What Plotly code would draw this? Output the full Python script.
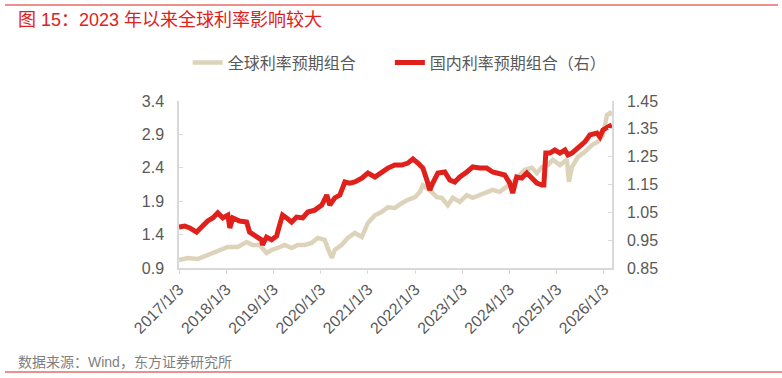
import plotly.graph_objects as go

# ---- data ----
global_dates = [
    "2017-01-03", "2017-03-11", "2017-05-28", "2017-08-13", "2017-10-30", "2018-01-16",
    "2018-04-02", "2018-06-10", "2018-07-26", "2018-09-19", "2018-11-11", "2018-12-20",
    "2019-02-05", "2019-03-31", "2019-05-24", "2019-07-09", "2019-09-02", "2019-10-26",
    "2019-12-12", "2020-02-04", "2020-02-27", "2020-03-30", "2020-04-22", "2020-06-15",
    "2020-07-31", "2020-09-24", "2020-11-17", "2021-01-03", "2021-02-26", "2021-04-21",
    "2021-06-06", "2021-07-30", "2021-09-22", "2021-11-08", "2022-01-03", "2022-02-10",
    "2022-03-04", "2022-04-04", "2022-05-12", "2022-06-20", "2022-07-28", "2022-09-13",
    "2022-10-22", "2022-12-15", "2023-02-07", "2023-03-25", "2023-05-18", "2023-07-11",
    "2023-08-26", "2023-10-19", "2023-12-12", "2024-01-20", "2024-03-07", "2024-04-30",
    "2024-06-24", "2024-08-02", "2024-09-10", "2024-10-26", "2024-12-03", "2025-01-27",
    "2025-03-22", "2025-04-07", "2025-04-30", "2025-06-15", "2025-08-08", "2025-10-01",
    "2025-11-16", "2025-12-26", "2026-01-26", "2026-02-18", "2026-03-05",
]
global_values = [
    1.02, 1.05, 1.035, 1.095, 1.17, 1.215,
    1.215, 1.29, 1.245, 1.245, 1.125, 1.17,
    1.20, 1.245, 1.20, 1.245, 1.245, 1.275,
    1.35, 1.32, 1.20, 1.05, 1.17, 1.245,
    1.35, 1.425, 1.365, 1.575, 1.69, 1.74,
    1.81, 1.80, 1.87, 1.92, 1.96, 2.04,
    2.14, 2.10, 2.04, 1.96, 1.95, 1.84,
    1.95, 1.89, 1.99, 1.95, 1.99, 2.04,
    2.07, 2.04, 2.11, 2.17, 2.26, 2.37,
    2.40, 2.32, 2.41, 2.44, 2.52, 2.44,
    2.52, 2.19, 2.41, 2.56, 2.64, 2.74,
    2.79, 2.89, 3.19, 3.22, 3.19,
]

domestic_dates = [
    "2017-01-03", "2017-02-16", "2017-03-27", "2017-05-19", "2017-06-27", "2017-08-13",
    "2017-09-21", "2017-10-30", "2017-12-08", "2018-01-16", "2018-01-31", "2018-02-23",
    "2018-04-17", "2018-06-10", "2018-07-03", "2018-08-26", "2018-10-03", "2018-10-11",
    "2018-11-11", "2018-12-20", "2019-01-28", "2019-02-20", "2019-03-15", "2019-04-15",
    "2019-05-24", "2019-07-02", "2019-08-18", "2019-09-26", "2019-11-19", "2020-01-12",
    "2020-02-20", "2020-03-14", "2020-04-22", "2020-05-31", "2020-07-09", "2020-08-16",
    "2020-09-24", "2020-11-17", "2021-01-03", "2021-02-26", "2021-04-21", "2021-06-06",
    "2021-07-30", "2021-09-22", "2021-11-08", "2021-12-17", "2022-01-25", "2022-03-04",
    "2022-04-04", "2022-04-27", "2022-05-20", "2022-06-28", "2022-08-21", "2022-09-28",
    "2022-11-06", "2022-12-15", "2023-02-07", "2023-03-25", "2023-05-18", "2023-07-11",
    "2023-08-26", "2023-10-19", "2023-11-27", "2024-01-05", "2024-01-28", "2024-02-28",
    "2024-04-07", "2024-05-16", "2024-06-24", "2024-08-02", "2024-09-10", "2024-09-25",
    "2024-10-10", "2024-11-10", "2024-12-19", "2025-01-27", "2025-03-07", "2025-03-30",
    "2025-04-30", "2025-06-15", "2025-08-08", "2025-09-16", "2025-11-09", "2025-12-02",
    "2025-12-26", "2026-02-03", "2026-03-05",
]
domestic_values = [
    0.997, 1.001, 0.994, 0.979, 0.997, 1.019,
    1.030, 1.048, 1.030, 1.040, 0.994, 1.030,
    1.019, 1.015, 0.979, 0.965, 0.951, 0.933,
    0.961, 0.951, 0.965, 1.004, 1.040, 1.030,
    1.015, 1.033, 1.030, 1.051, 1.058, 1.076,
    1.112, 1.076, 1.102, 1.112, 1.159, 1.155,
    1.159, 1.173, 1.191, 1.177, 1.195, 1.209,
    1.220, 1.220, 1.227, 1.242, 1.227, 1.209,
    1.166, 1.130, 1.155, 1.191, 1.195, 1.166,
    1.159, 1.177, 1.195, 1.213, 1.209, 1.209,
    1.195, 1.191, 1.184, 1.155, 1.119, 1.177,
    1.173, 1.191, 1.173, 1.155, 1.148, 1.148,
    1.263, 1.263, 1.274, 1.263, 1.274, 1.256,
    1.263, 1.281, 1.303, 1.328, 1.335, 1.321,
    1.346, 1.357, 1.364,
]

tick_dates = ["2017-01-03", "2018-01-03", "2019-01-03", "2020-01-03", "2021-01-03",
              "2022-01-03", "2023-01-03", "2024-01-03", "2025-01-03", "2026-01-03"]
tick_labels = ["2017/1/3", "2018/1/3", "2019/1/3", "2020/1/3", "2021/1/3",
               "2022/1/3", "2023/1/3", "2024/1/3", "2025/1/3", "2026/1/3"]
left_ticks = [0.9, 1.4, 1.9, 2.4, 2.9, 3.4]
right_ticks = [0.85, 0.95, 1.05, 1.15, 1.25, 1.35, 1.45]

name_global = "全球利率预期组合"
name_domestic = "国内利率预期组合（右）"
title_text = "图 15：2023 年以来全球利率影响较大"
source_text = "数据来源：Wind，东方证券研究所"

FONT = "Liberation Sans, Arial, Noto Sans CJK SC, sans-serif"
GREY = "#595959"
AXIS = "#D9D9D9"
BEIGE = "#DDD3BA"
RED = "#E0201B"

fig = go.Figure()
fig.add_trace(go.Scatter(x=global_dates, y=global_values, name=name_global,
                         mode="lines", line=dict(color=BEIGE, width=4.5), yaxis="y",
                         legend="legend"))
fig.add_trace(go.Scatter(x=domestic_dates, y=domestic_values, name=name_domestic,
                         mode="lines", line=dict(color=RED, width=5), yaxis="y2",
                         legend="legend2"))

legend_style = dict(orientation="h", y=1.23, xanchor="left", yanchor="middle",
                    font=dict(size=16, color=GREY, family="Noto Sans CJK SC, sans-serif"),
                    bgcolor="rgba(0,0,0,0)", itemwidth=30)

fig.update_layout(
    width=782, height=378,
    margin=dict(l=179, r=170, t=101, b=110),
    paper_bgcolor="white", plot_bgcolor="white",
    font=dict(family=FONT, color=GREY, size=15),
    showlegend=True,
    legend=dict(x=0.02, **legend_style),
    legend2=dict(x=0.487, **legend_style),
    xaxis=dict(range=["2017-01-03", "2026-03-06"], tickvals=tick_dates, ticktext=tick_labels,
               tickangle=-45, showline=True, linecolor=AXIS, linewidth=1.5,
               ticks="outside", ticklen=4, tickcolor=AXIS, showgrid=False, zeroline=False,
               tickfont=dict(size=16, color=GREY)),
    yaxis=dict(range=[0.9, 3.4], tickvals=left_ticks, ticktext=[f"{v:.1f}" for v in left_ticks],
               showline=True, linecolor=AXIS, linewidth=1.5, ticks="inside", ticklen=4,
               tickcolor=AXIS, showgrid=False, zeroline=False, ticklabelstandoff=10,
               tickfont=dict(size=16, color=GREY)),
    yaxis2=dict(range=[0.85, 1.45], tickvals=right_ticks, ticktext=[f"{v:.2f}" for v in right_ticks],
                overlaying="y", side="right", showline=True, linecolor=AXIS, linewidth=1.5,
                ticks="inside", ticklen=4, tickcolor=AXIS, showgrid=False, zeroline=False,
                ticklabelstandoff=10, tickfont=dict(size=16, color=GREY)),
)

fig.add_annotation(text=title_text, xref="paper", yref="paper", x=-179/433, y=1 + (101 - 20) / 167,
                   xanchor="left", yanchor="middle", showarrow=False, xshift=16,
                   font=dict(size=18, color=RED, family=FONT))
fig.add_annotation(text=source_text, xref="paper", yref="paper", x=-179/433, y=-(362 - 268) / 167,
                   xanchor="left", yanchor="middle", showarrow=False, xshift=16,
                   font=dict(size=14, color="#7F7F7F", family=FONT))

# decorative frame lines (top and bottom rules)
fig.add_shape(type="line", xref="paper", yref="paper", x0=-174/433, x1=(778 - 179) / 433,
              y0=1 + (101 - 5) / 167, y1=1 + (101 - 5) / 167, line=dict(color=RED, width=1.2))
fig.add_shape(type="line", xref="paper", yref="paper", x0=-174/433, x1=(782 - 179) / 433,
              y0=-(372 - 268) / 167, y1=-(372 - 268) / 167, line=dict(color="#E86A6A", width=1.5))

fig.write_html("out.html")
